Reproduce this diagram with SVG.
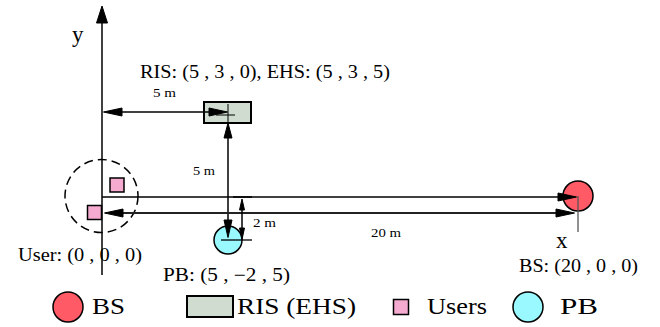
<svg xmlns="http://www.w3.org/2000/svg" width="660" height="327" viewBox="0 0 660 327">
<style>
text{font-family:"Liberation Serif","DejaVu Serif",serif;fill:#000}
.lbl{font-size:18px}
.sm{font-size:13px}
.leg{font-size:23px}
.ax{font-size:23px}
.ln{stroke:#000;stroke-width:1.5;fill:none}
.ah{fill:#000;stroke:#000;stroke-width:1;stroke-linejoin:miter}
.bs{fill:#FF5A66;stroke:#000;stroke-width:1.5}
.ris{fill:#CFDCCF;stroke:#000;stroke-width:2}
.usr{fill:#F4ABCF;stroke:#000;stroke-width:1.5}
.pb{fill:#9AF8FF;stroke:#000;stroke-width:1.5}
</style>
<g id="axes">
<line class="ln" x1="102" y1="275" x2="102" y2="20"/>
<polygon class="ah" points="102,6 107.5,23 96.5,23"/>
<text class="ax" x="72" y="42">y</text>
<text class="ax" x="556" y="248">x</text>
</g>
<g id="ris">
<rect class="ris" x="204" y="102" width="47" height="21"/>
<line x1="228" y1="104" x2="228" y2="122" stroke="#000" stroke-width="1"/>
<line x1="216" y1="115" x2="235" y2="115" stroke="#000" stroke-width="1"/>
<text class="lbl" x="140" y="78" textLength="250" lengthAdjust="spacingAndGlyphs">RIS: (5 , 3 , 0), EHS: (5 , 3 , 5)</text>
</g>
<g id="pb">
<circle class="pb" cx="228" cy="240" r="14"/>
<line x1="221" y1="240" x2="252" y2="240" stroke="#000" stroke-width="1.3"/>
<text class="lbl" x="163" y="281" textLength="127" lengthAdjust="spacingAndGlyphs">PB: (5 , −2 , 5)</text>
</g>
<g id="bs">
<circle class="bs" cx="578" cy="196" r="15"/>
<line x1="578" y1="196" x2="578" y2="232" stroke="#555" stroke-width="1.3"/>
<text class="lbl" x="519" y="272" textLength="119" lengthAdjust="spacingAndGlyphs">BS: (20 , 0 , 0)</text>
</g>
<g id="users">
<circle cx="101.5" cy="196" r="36.5" fill="none" stroke="#000" stroke-width="1.5" stroke-dasharray="9,5"/>
<rect class="usr" x="110" y="178" width="14" height="14"/>
<rect class="usr" x="87.5" y="205.5" width="14" height="14"/>
<text class="lbl" x="18" y="261" textLength="124" lengthAdjust="spacingAndGlyphs">User: (0 , 0 , 0)</text>
</g>
<g id="connectors">
<line class="ln" x1="110" y1="112" x2="220" y2="112"/>
<polygon class="ah" points="103.5,112 122,108 122,116"/>
<polygon class="ah" points="227.5,112 209,108 209,116"/>
<line class="ln" x1="228" y1="130" x2="228" y2="230"/>
<polygon class="ah" points="228,123 232,138 224,138"/>
<polygon class="ah" points="228,237.5 232,220 224,220"/>
<line class="ln" x1="102" y1="197" x2="570" y2="197"/>
<polygon class="ah" points="576.5,197 558,193 558,201"/>
<line x1="110" y1="213" x2="568" y2="213" stroke="#222" stroke-width="1.8"/>
<polygon class="ah" points="104.5,213 123,209 123,217"/>
<polygon class="ah" points="574.5,213 556,209 556,217"/>
<line class="ln" x1="242" y1="203" x2="242" y2="235"/>
<polygon class="ah" points="242,199 244.5,210 239.5,210"/>
<polygon class="ah" points="242,239.5 244.5,228 239.5,228"/>
<line class="ln" x1="233" y1="197" x2="252" y2="197"/>
<text class="sm" x="153" y="97" textLength="23" lengthAdjust="spacingAndGlyphs">5 m</text>
<text class="sm" x="193" y="175" textLength="22" lengthAdjust="spacingAndGlyphs">5 m</text>
<text class="sm" x="253" y="227" textLength="23" lengthAdjust="spacingAndGlyphs">2 m</text>
<text class="sm" x="371" y="237" textLength="30" lengthAdjust="spacingAndGlyphs">20 m</text>
</g>
<g id="legend">
<circle class="bs" cx="68" cy="307" r="15"/>
<text class="leg" x="92" y="314" textLength="33" lengthAdjust="spacingAndGlyphs">BS</text>
<rect class="ris" x="187" y="296" width="46" height="21"/>
<text class="leg" x="237" y="314" textLength="119" lengthAdjust="spacingAndGlyphs">RIS (EHS)</text>
<rect class="usr" x="393.5" y="299.5" width="15" height="15"/>
<text class="leg" x="427" y="314" textLength="60" lengthAdjust="spacingAndGlyphs">Users</text>
<circle class="pb" cx="528" cy="307" r="15"/>
<text class="leg" x="560" y="314" textLength="38" lengthAdjust="spacingAndGlyphs">PB</text>
</g>
</svg>
